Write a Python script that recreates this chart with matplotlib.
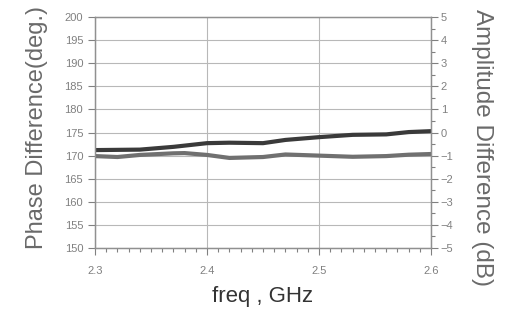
import matplotlib
matplotlib.use("Agg")
import matplotlib.pyplot as plt
from matplotlib.ticker import MultipleLocator

plt.rcParams['font.family'] = ['Liberation Sans', 'DejaVu Sans']

# Data
freq_phase = [2.30, 2.34, 2.37, 2.40, 2.42, 2.45, 2.47, 2.50, 2.53, 2.56, 2.58, 2.60]
phase_deg = [171.2, 171.3, 171.9, 172.7, 172.8, 172.7, 173.4, 174.0, 174.5, 174.6, 175.1, 175.3]

freq_amp = [2.30, 2.32, 2.34, 2.37, 2.38, 2.40, 2.42, 2.45, 2.47, 2.50, 2.53, 2.56, 2.58, 2.60]
amp_db = [-1.02, -1.06, -0.97, -0.90, -0.89, -0.97, -1.10, -1.06, -0.95, -1.00, -1.05, -1.02, -0.96, -0.93]

x_ticks = [2.3, 2.4, 2.5, 2.6]
left_ticks = list(range(150, 201, 5))
right_ticks = list(range(-5, 6, 1))

fig = plt.figure(figsize=(5.15, 3.22), dpi=100)
ax = fig.add_axes([0.1845, 0.2298, 0.6525, 0.7172])
ax2 = ax.twinx()

ax.plot(freq_phase, phase_deg, color='#3a3a3a', lw=3.0, solid_capstyle='butt')
ax2.plot(freq_amp, amp_db, color='#707070', lw=3.0, solid_capstyle='butt')

ax.set_xlim(2.3, 2.6)
ax.set_ylim(150, 200)
ax2.set_ylim(-5, 5)

ax.set_xticks(x_ticks)
ax.set_xticklabels([str(t) for t in x_ticks])
ax.xaxis.set_minor_locator(MultipleLocator(0.01))
ax.set_yticks(left_ticks)
ax2.set_yticks(right_ticks)
ax2.yaxis.set_minor_locator(MultipleLocator(0.5))

ax.grid(True, which='major', color='#b8b8b8', lw=0.8)
ax.set_axisbelow(True)

tick_col = '#808080'
ax.tick_params(axis='both', which='major', labelsize=8, colors=tick_col, length=5, width=0.8)
ax.tick_params(axis='x', which='major', pad=8)
ax.tick_params(axis='x', which='minor', length=3, width=0.8, colors=tick_col)
ax2.tick_params(axis='y', which='major', labelsize=8, colors=tick_col, length=5, width=0.8, pad=2)
ax2.tick_params(axis='y', which='minor', length=3, width=0.8, colors=tick_col)

for a in (ax, ax2):
    for s in a.spines.values():
        s.set_color('#909090')
        s.set_linewidth(0.9)

label_col = '#6a6a6a'
ax.set_ylabel("Phase Difference(deg.)", fontsize=17, color=label_col)
ax.yaxis.set_label_coords(-0.14, 0.52)
ax2.set_ylabel("Amplitude Difference (dB)", fontsize=17.5, color=label_col, rotation=270, va='center')
ax2.yaxis.set_label_coords(1.152, 0.437)
ax.set_xlabel("freq , GHz", fontsize=16, color='#333333', labelpad=7)

fig.savefig("out.png", dpi=100, facecolor='white')
